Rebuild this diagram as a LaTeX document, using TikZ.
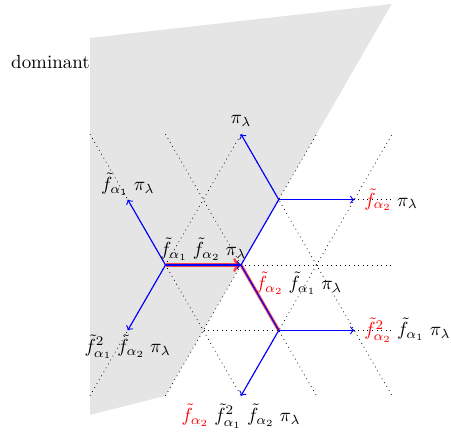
\documentclass[tikz,border=0pt]{standalone}
\usepackage{tikz}
\usepackage{amsmath}
\usepackage{amssymb}
\usepackage{xcolor}
\usetikzlibrary{calc}

\begin{document}
\begin{tikzpicture}[
  semithick,  lspath/.style={blue,->},  hilite/.style={red,line width=1.6pt,opacity=0.7},  latt/.style={black,thin,dotted},  lbl/.style={inner sep=2pt}
]
  \useasboundingbox (-4.469,-3.134) rectangle (3.894,4.914);
  % horizontal lines of the lattice
  \draw[latt] (-2.8,1.212) -- (2.8,1.212);
  \draw[latt] (-2.8,0.000) -- (2.8,0.000);
  \draw[latt] (-2.8,-1.212) -- (2.8,-1.212);
  % dominant chamber
  \fill[gray!20] (-2.8,4.21) -- (2.795,4.84) -- (-1.4,-2.425) -- (-2.8,-2.78) -- cycle;
  \node[anchor=east,inner sep=1pt] (dom) at (-2.76,3.76) {dominant};
  % walls
  \draw[latt] (-2.8,2.425) -- (0.0,-2.425);
  \draw[latt] (-1.4,2.425) -- (1.4,-2.425);
  \draw[latt] (0.0,2.425) -- (2.8,-2.425);
  \draw[latt] (-2.8,-2.425) -- (0.0,2.425);
  \draw[latt] (-1.4,-2.425) -- (1.4,2.425);
  \draw[latt] (0.0,-2.425) -- (2.8,2.425);
  % turning points and ends of the paths
  \coordinate (pa) at (-1.4,0.000);
  \coordinate (pb) at (0.000,0.000);
  \coordinate (pc) at (0.7,1.212);
  \coordinate (pd) at (0.7,-1.212);
  \coordinate (e0) at (0.000,2.425);
  \coordinate (e1) at (-2.1,1.212);
  \coordinate (e2) at (2.1,1.212);
  \coordinate (e3) at (-2.1,-1.212);
  \coordinate (e4) at (2.1,-1.212);
  \coordinate (e5) at (0.000,-2.425);
  % red path
  \draw[hilite,->] (pa) -- (pb);
  \draw[hilite] (pb) -- (pd);
  % LS paths
  \draw[lspath] (pc) -- (e0);
  \draw[lspath] (pc) -- (e2);
  \draw[blue] (pb) -- (pc);
  \draw[lspath] (pa) -- (e1);
  \draw[lspath] (pa) -- (e3);
  \draw[lspath] (pa) -- (pb);
  \draw[blue] (pb) -- (pd);
  \draw[lspath] (pd) -- (e4);
  \draw[lspath] (pd) -- (e5);
  % labels
  \node[lbl,above=2pt] (l0) at (e0) {$\pi_\lambda$};
  \node[lbl,above] (l1) at (e1) {$\tilde f_{\alpha_1}\;\pi_\lambda$};
  \node[lbl,right=3pt] (l2) at (e2) {$\textcolor{red}{\tilde f_{\alpha_2}}\;\pi_\lambda$};
  \node[lbl,below] (l3) at (e3) {$\tilde f^2_{\alpha_1}\;\tilde f_{\alpha_2}\;\pi_\lambda$};
  \node[lbl,right=3pt] (l4) at (e4) {$\textcolor{red}{\tilde f^2_{\alpha_2}}\;\tilde f_{\alpha_1}\;\pi_\lambda$};
  \node[lbl,below=2pt] (l5) at (e5) {$\textcolor{red}{\tilde f_{\alpha_2}}\;\tilde f^2_{\alpha_1}\;\tilde f_{\alpha_2}\;\pi_\lambda$};
  \node[lbl,above] (l6) at ($(pa)!0.5!(pb)$) {$\tilde f_{\alpha_1}\;\tilde f_{\alpha_2}\;\pi_\lambda$};
  \node[lbl,anchor=west] (l7) at ($(pb)!0.28!(pd)$) {$\textcolor{red}{\tilde f_{\alpha_2}}\;\tilde f_{\alpha_1}\;\pi_\lambda$};
\end{tikzpicture}
\end{document}
